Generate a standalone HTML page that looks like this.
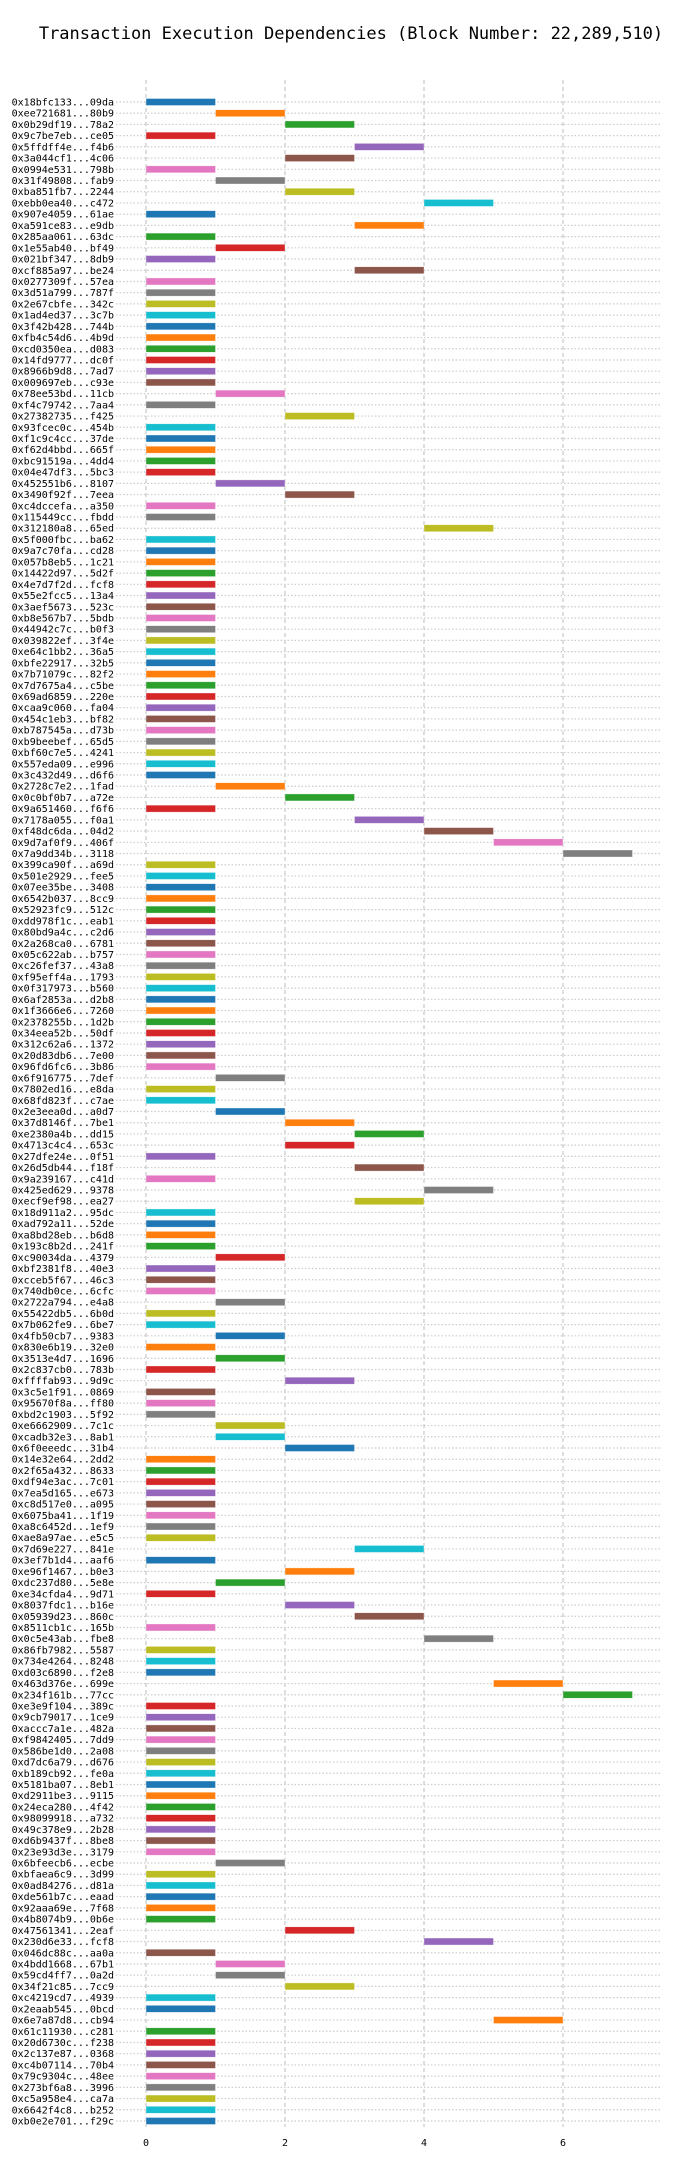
<!DOCTYPE html>
<html><head><meta charset="utf-8">
<style>
html,body{margin:0;padding:0;background:#fff;width:700px;height:2172px;overflow:hidden}
svg text{font-family:"DejaVu Sans Mono","Liberation Mono",monospace}
</style></head>
<body>
<svg id="chart" width="700" height="2172" viewBox="0 0 700 2172" xmlns="http://www.w3.org/2000/svg">
<text x="351" y="39" text-anchor="middle" font-size="17" fill="#000">Transaction Execution Dependencies (Block Number: 22,289,510)</text>
<g id="grid"></g><g id="bars"></g><g id="labels"></g><g id="ticks"></g>
</svg>
<script>
const txLabels = ["0x18bfc133...09da","0xee721681...80b9","0x0b29df19...78a2","0x9c7be7eb...ce05","0x5ffdff4e...f4b6","0x3a044cf1...4c06","0x0994e531...798b","0x31f49808...fab9","0xba851fb7...2244","0xebb0ea40...c472","0x907e4059...61ae","0xa591ce83...e9db","0x285aa061...63dc","0x1e55ab40...bf49","0x021bf347...8db9","0xcf885a97...be24","0x0277309f...57ea","0x3d51a799...787f","0x2e67cbfe...342c","0x1ad4ed37...3c7b","0x3f42b428...744b","0xfb4c54d6...4b9d","0xcd0350ea...d083","0x14fd9777...dc0f","0x8966b9d8...7ad7","0x009697eb...c93e","0x78ee53bd...11cb","0xf4c79742...7aa4","0x27382735...f425","0x93fcec0c...454b","0xf1c9c4cc...37de","0xf62d4bbd...665f","0xbc91519a...4dd4","0x04e47df3...5bc3","0x452551b6...8107","0x3490f92f...7eea","0xc4dccefa...a350","0x115449cc...fbdd","0x312180a8...65ed","0x5f000fbc...ba62","0x9a7c70fa...cd28","0x057b8eb5...1c21","0x14422d97...5d2f","0x4e7d7f2d...fcf8","0x55e2fcc5...13a4","0x3aef5673...523c","0xb8e567b7...5bdb","0x44942c7c...b0f3","0x039822ef...3f4e","0xe64c1bb2...36a5","0xbfe22917...32b5","0x7b71079c...82f2","0x7d7675a4...c5be","0x69ad6859...220e","0xcaa9c060...fa04","0x454c1eb3...bf82","0xb787545a...d73b","0xb9beebef...65d5","0xbf60c7e5...4241","0x557eda09...e996","0x3c432d49...d6f6","0x2728c7e2...1fad","0x0c0bf0b7...a72e","0x9a651460...f6f6","0x7178a055...f0a1","0xf48dc6da...04d2","0x9d7af0f9...406f","0x7a9dd34b...3118","0x399ca90f...a69d","0x501e2929...fee5","0x07ee35be...3408","0x6542b037...8cc9","0x52923fc9...512c","0xdd978f1c...eab1","0x80bd9a4c...c2d6","0x2a268ca0...6781","0x05c622ab...b757","0xc26fef37...43a8","0xf95eff4a...1793","0x0f317973...b560","0x6af2853a...d2b8","0x1f3666e6...7260","0x2378255b...1d2b","0x34eea52b...50df","0x312c62a6...1372","0x20d83db6...7e00","0x96fd6fc6...3b86","0x6f916775...7def","0x7802ed16...e8da","0x68fd823f...c7ae","0x2e3eea0d...a0d7","0x37d8146f...7be1","0xe2380a4b...dd15","0x4713c4c4...653c","0x27dfe24e...0f51","0x26d5db44...f18f","0x9a239167...c41d","0x425ed629...9378","0xecf9ef98...ea27","0x18d911a2...95dc","0xad792a11...52de","0xa8bd28eb...b6d8","0x193c8b2d...241f","0xc90034da...4379","0xbf2381f8...40e3","0xcceb5f67...46c3","0x740db0ce...6cfc","0x2722a794...e4a8","0x55422db5...6b0d","0x7b062fe9...6be7","0x4fb50cb7...9383","0x830e6b19...32e0","0x3513e4d7...1696","0x2c837cb0...783b","0xffffab93...9d9c","0x3c5e1f91...0869","0x95670f8a...ff80","0xbd2c1903...5f92","0xe6662909...7c1c","0xcadb32e3...8ab1","0x6f0eeedc...31b4","0x14e32e64...2dd2","0x2f65a432...8633","0xdf94e3ac...7c01","0x7ea5d165...e673","0xc8d517e0...a095","0x6075ba41...1f19","0xa8c6452d...1ef9","0xae8a97ae...e5c5","0x7d69e227...841e","0x3ef7b1d4...aaf6","0xe96f1467...b0e3","0xdc237d80...5e8e","0xe34cfda4...9d71","0x8037fdc1...b16e","0x05939d23...860c","0x8511cb1c...165b","0x0c5e43ab...fbe8","0x86fb7982...5587","0x734e4264...8248","0xd03c6890...f2e8","0x463d376e...699e","0x234f161b...77cc","0xe3e9f104...389c","0x9cb79017...1ce9","0xaccc7a1e...482a","0xf9842405...7dd9","0x586be1d0...2a08","0xd7dc6a79...d676","0xb189cb92...fe0a","0x5181ba07...8eb1","0xd2911be3...9115","0x24eca280...4f42","0x98099918...a732","0x49c378e9...2b28","0xd6b9437f...8be8","0x23e93d3e...3179","0x6bfeecb6...ecbe","0xbfaea6c9...3d99","0x0ad84276...d81a","0xde561b7c...eaad","0x92aaa69e...7f68","0x4b8074b9...0b6e","0x47561341...2eaf","0x230d6e33...fcf8","0x046dc88c...aa0a","0x4bdd1668...67b1","0x59cd4ff7...0a2d","0x34f21c85...7cc9","0xc4219cd7...4939","0x2eaab545...0bcd","0x6e7a87d8...cb94","0x61c11930...c281","0x20d6730c...f238","0x2c137e87...0368","0xc4b07114...70b4","0x79c9304c...48ee","0x273bf6a8...3996","0xc5a958e4...ca7a","0x6642f4c8...b252","0xb0e2e701...f29c"];
const startTimes = [0,1,2,0,3,2,0,1,2,4,0,3,0,1,0,3,0,0,0,0,0,0,0,0,0,0,1,0,2,0,0,0,0,0,1,2,0,0,4,0,0,0,0,0,0,0,0,0,0,0,0,0,0,0,0,0,0,0,0,0,0,1,2,0,3,4,5,6,0,0,0,0,0,0,0,0,0,0,0,0,0,0,0,0,0,0,0,1,0,0,1,2,3,2,0,3,0,4,3,0,0,0,0,1,0,0,0,1,0,0,1,0,1,0,2,0,0,0,1,1,2,0,0,0,0,0,0,0,0,3,0,2,1,0,2,3,0,4,0,0,0,5,6,0,0,0,0,0,0,0,0,0,0,0,0,0,0,1,0,0,0,0,0,2,4,0,1,1,2,0,0,5,0,0,0,0,0,0,0,0,0];
const durations = txLabels.map(()=>1);
const xTicks = [0,2,4,6];
const palette = ["#1f77b4","#ff7f0e","#2ca02c","#d62728","#9467bd","#8c564b","#e377c2","#7f7f7f","#bcbd22","#17becf"];

const NS="http://www.w3.org/2000/svg";
const X0=146, UNIT=69.5, Y0=102, TOP=80, BOT=2127, GL=116, GR=661;
const rowStep=(2121-Y0)/(txLabels.length-1);
const xs=v=>X0+v*UNIT;
const ys=i=>Y0+i*rowStep;
function mk(tag,attrs,parent){const e=document.createElementNS(NS,tag);for(const k in attrs)e.setAttribute(k,attrs[k]);parent.appendChild(e);return e;}
const grid=document.getElementById('grid'),bars=document.getElementById('bars'),labels=document.getElementById('labels'),ticks=document.getElementById('ticks');
xTicks.forEach(t=>{
  const l=mk('line',{x1:xs(t),x2:xs(t),y1:TOP,y2:BOT,stroke:'#cccccc','stroke-width':1.3,'stroke-dasharray':'4,3'},grid);
  
  
  const tx=mk('text',{x:xs(t),y:2146,'text-anchor':'middle','font-size':10,fill:'#000'},ticks);
  tx.textContent=t;
  
  
});
txLabels.forEach((lab,i)=>{
  const y=ys(i);
  const g=mk('line',{x1:GL,x2:GR,y1:y,y2:y,stroke:'#cccccc','stroke-width':1.2,'stroke-dasharray':'1.5,2'},grid);
  
  
  const t=mk('text',{x:114,y:y+3.5,'text-anchor':'end','font-size':10,fill:'#000'},labels);
  t.textContent=lab;
  
  
  const r=mk('rect',{x:xs(startTimes[i]),y:y-3.5,width:durations[i]*UNIT,height:7,fill:palette[i%10],stroke:'#fff','stroke-opacity':0.6,'stroke-width':0.6},bars);
  
  
});
</script>
</body></html>
